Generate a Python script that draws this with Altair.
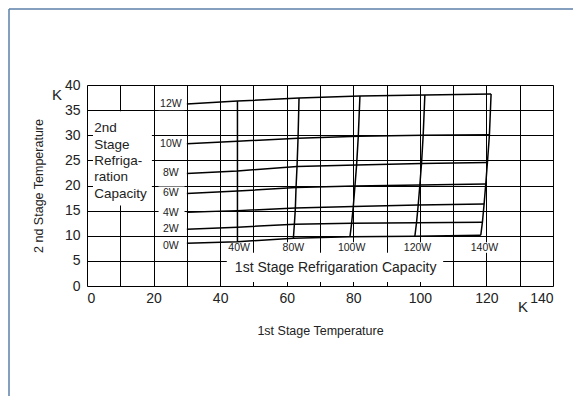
import altair as alt
import pandas as pd

# ---- data ----
cap1_labels = ["40W", "80W", "100W", "120W", "140W"]          # 1st stage capacity
cap2_labels = ["0W", "2W", "4W", "6W", "8W", "10W", "12W"]     # 2nd stage capacity

# left start of every constant-2nd-stage-capacity line
start_t1 = [30, 30, 30, 30, 30, 30, 30]
start_t2 = [8.5, 11.3, 14.7, 18.4, 22.4, 28.3, 36.2]

# 1st stage temperature at each (1st cap, 2nd cap) node
t1_40 = [45.2, 45.2, 45.2, 45.2, 45.2, 45.2, 45.2]
t1_80 = [62.0, 62.3, 62.6, 62.8, 63.1, 63.4, 63.7]
t1_100 = [79.0, 79.5, 80.0, 80.5, 81.0, 81.5, 82.0]
t1_120 = [98.5, 99.0, 99.5, 100.0, 100.5, 101.0, 101.5]
t1_140 = [118.3, 118.8, 119.3, 119.8, 120.3, 120.9, 121.4]

# 2nd stage temperature at each node
t2_40 = [8.8, 11.7, 15.0, 18.9, 22.9, 28.8, 36.8]
t2_80 = [9.5, 12.3, 15.5, 19.6, 23.8, 29.4, 37.4]
t2_100 = [9.8, 12.5, 15.8, 19.9, 24.1, 29.8, 37.8]
t2_120 = [9.9, 12.6, 16.1, 20.1, 24.4, 30.0, 38.0]
t2_140 = [10.1, 12.7, 16.3, 20.3, 24.6, 30.1, 38.2]

t1_grid = [t1_40, t1_80, t1_100, t1_120, t1_140]
t2_grid = [t2_40, t2_80, t2_100, t2_120, t2_140]

# tick values
x_ticks = [0, 10, 20, 30, 40, 50, 60, 70, 80, 90, 100, 110, 120, 130, 140]
y_ticks = [0, 5, 10, 15, 20, 25, 30, 35, 40]

# label positions
cap2_label_x = [25.2] * 7
cap2_label_y = [8.0, 11.3, 14.6, 18.5, 22.4, 28.3, 36.3]
cap1_label_x = [45.7, 62.0, 79.5, 99.3, 119.4]
cap1_label_y = [7.6] * 5
side_lines = ["2nd", "Stage", "Refriga-", "ration", "Capacity"]
side_y = [31.4, 28.1, 24.9, 21.7, 18.3]
side_x = [2.2] * 5
bottom_text = ["1st Stage Refrigaration Capacity"]
bottom_x = [74.7]
bottom_y = [3.6]

FONT = "Liberation Sans"

# ---- build tables ----
rows = []
for j, c2 in enumerate(cap2_labels):
    rows.append(dict(x=start_t1[j], y=start_t2[j], series="h" + c2, o=0))
    for i in range(len(cap1_labels)):
        rows.append(dict(x=t1_grid[i][j], y=t2_grid[i][j], series="h" + c2, o=i + 1))
for i, c1 in enumerate(cap1_labels):
    for j in range(len(cap2_labels)):
        rows.append(dict(x=t1_grid[i][j], y=t2_grid[i][j], series="v" + c1, o=j))
lines_df = pd.DataFrame(rows)

# white backgrounds behind labels (hide grid lines)
bg = []
for j, lab in enumerate(cap2_labels):
    top = cap2_label_y[j] + 1.3
    bg.append(dict(x=21.5, x2=29.3, y=max(cap2_label_y[j] - 1.3, 0), y2=top))
for i, lab in enumerate(cap1_labels):
    hw = 3.7 if len(lab) == 3 else 4.2
    bg.append(dict(x=cap1_label_x[i] - hw, x2=cap1_label_x[i] + hw, y=6.6, y2=8.7))
bg.append(dict(x=1.8, x2=19.5, y=16.0, y2=34.8))
bg.append(dict(x=42.0, x2=107.0, y=0.8, y2=6.6))
bg_df = pd.DataFrame(bg)

xs = alt.Scale(domain=[0, 140], nice=False)
ys = alt.Scale(domain=[0, 40], nice=False)

x_axis = alt.Axis(values=x_ticks, labelExpr="datum.value % 20 == 0 ? datum.label : ''",
                  title="1st Stage Temperature", grid=True, ticks=False, domain=False,
                  labelFontSize=14, labelPadding=5, titlePadding=19, titleFontSize=12.5,
                  titleFontWeight="normal", labelFont=FONT, titleFont=FONT, labelOverlap=False,
                  labelColor="#222", titleColor="#222", gridColor="black", gridWidth=1)
y_axis = alt.Axis(values=y_ticks, title="2 nd Stage Temperature", grid=True,
                  ticks=False, domain=False, labelFontSize=14, labelPadding=7, titlePadding=19,
                  titleFontSize=12.5, titleFontWeight="normal", labelFont=FONT, titleFont=FONT,
                  labelOverlap=False,
                  labelColor="#222", titleColor="#222", gridColor="black", gridWidth=1)

X = alt.X("x:Q", scale=xs, axis=x_axis)
Y = alt.Y("y:Q", scale=ys, axis=y_axis)

rects = alt.Chart(bg_df).mark_rect(color="white").encode(
    x=X, x2="x2:Q", y=Y, y2="y2:Q")

lines = alt.Chart(lines_df).mark_line(color="black", strokeWidth=1.5).encode(
    x=X, y=Y, detail="series:N", order="o:Q")

c2_df = pd.DataFrame(dict(x=cap2_label_x, y=cap2_label_y, t=cap2_labels))
c2_text = alt.Chart(c2_df).mark_text(font=FONT, fontSize=10.5, color="#222").encode(
    x=X, y=Y, text="t:N")

c1_df = pd.DataFrame(dict(x=cap1_label_x, y=cap1_label_y, t=cap1_labels))
c1_text = alt.Chart(c1_df).mark_text(font=FONT, fontSize=10.5, color="#222").encode(
    x=X, y=Y, text="t:N")

side_df = pd.DataFrame(dict(x=side_x, y=side_y, t=side_lines))
side_text = alt.Chart(side_df).mark_text(font=FONT, fontSize=13.5, align="left", color="#222").encode(
    x=X, y=Y, text="t:N")

bot_df = pd.DataFrame(dict(x=bottom_x, y=bottom_y, t=bottom_text))
bot_text = alt.Chart(bot_df).mark_text(font=FONT, fontSize=14, color="#222").encode(
    x=X, y=Y, text="t:N")

k_df = pd.DataFrame(dict(t=["K"]))
k_y = alt.Chart(k_df).mark_text(font=FONT, fontSize=15, color="#222").encode(
    x=alt.value(-30), y=alt.value(10), text="t:N")
k_x = alt.Chart(k_df).mark_text(font=FONT, fontSize=15, color="#222").encode(
    x=alt.value(436), y=alt.value(222), text="t:N")

frame_top = alt.Chart(k_df).mark_rule(color="#5b80a8", strokeWidth=1.5).encode(
    x=alt.value(-78), x2=alt.value(490), y=alt.value(-76))
frame_left = alt.Chart(k_df).mark_rule(color="#5b80a8", strokeWidth=1.5).encode(
    x=alt.value(-78), y=alt.value(-76), y2=alt.value(320))

chart = alt.layer(rects, lines, c2_text, c1_text, side_text, bot_text,
                  k_y, k_x, frame_top, frame_left).properties(
    width=466, height=201,
    autosize=alt.AutoSizeParams(type="none"),
    padding={"left": 79, "top": 77, "right": 20, "bottom": 110},
).configure_view(stroke="black", strokeWidth=1.5).configure(background="white")

chart.save("out.html", embed_options={"renderer": "svg", "actions": False})
